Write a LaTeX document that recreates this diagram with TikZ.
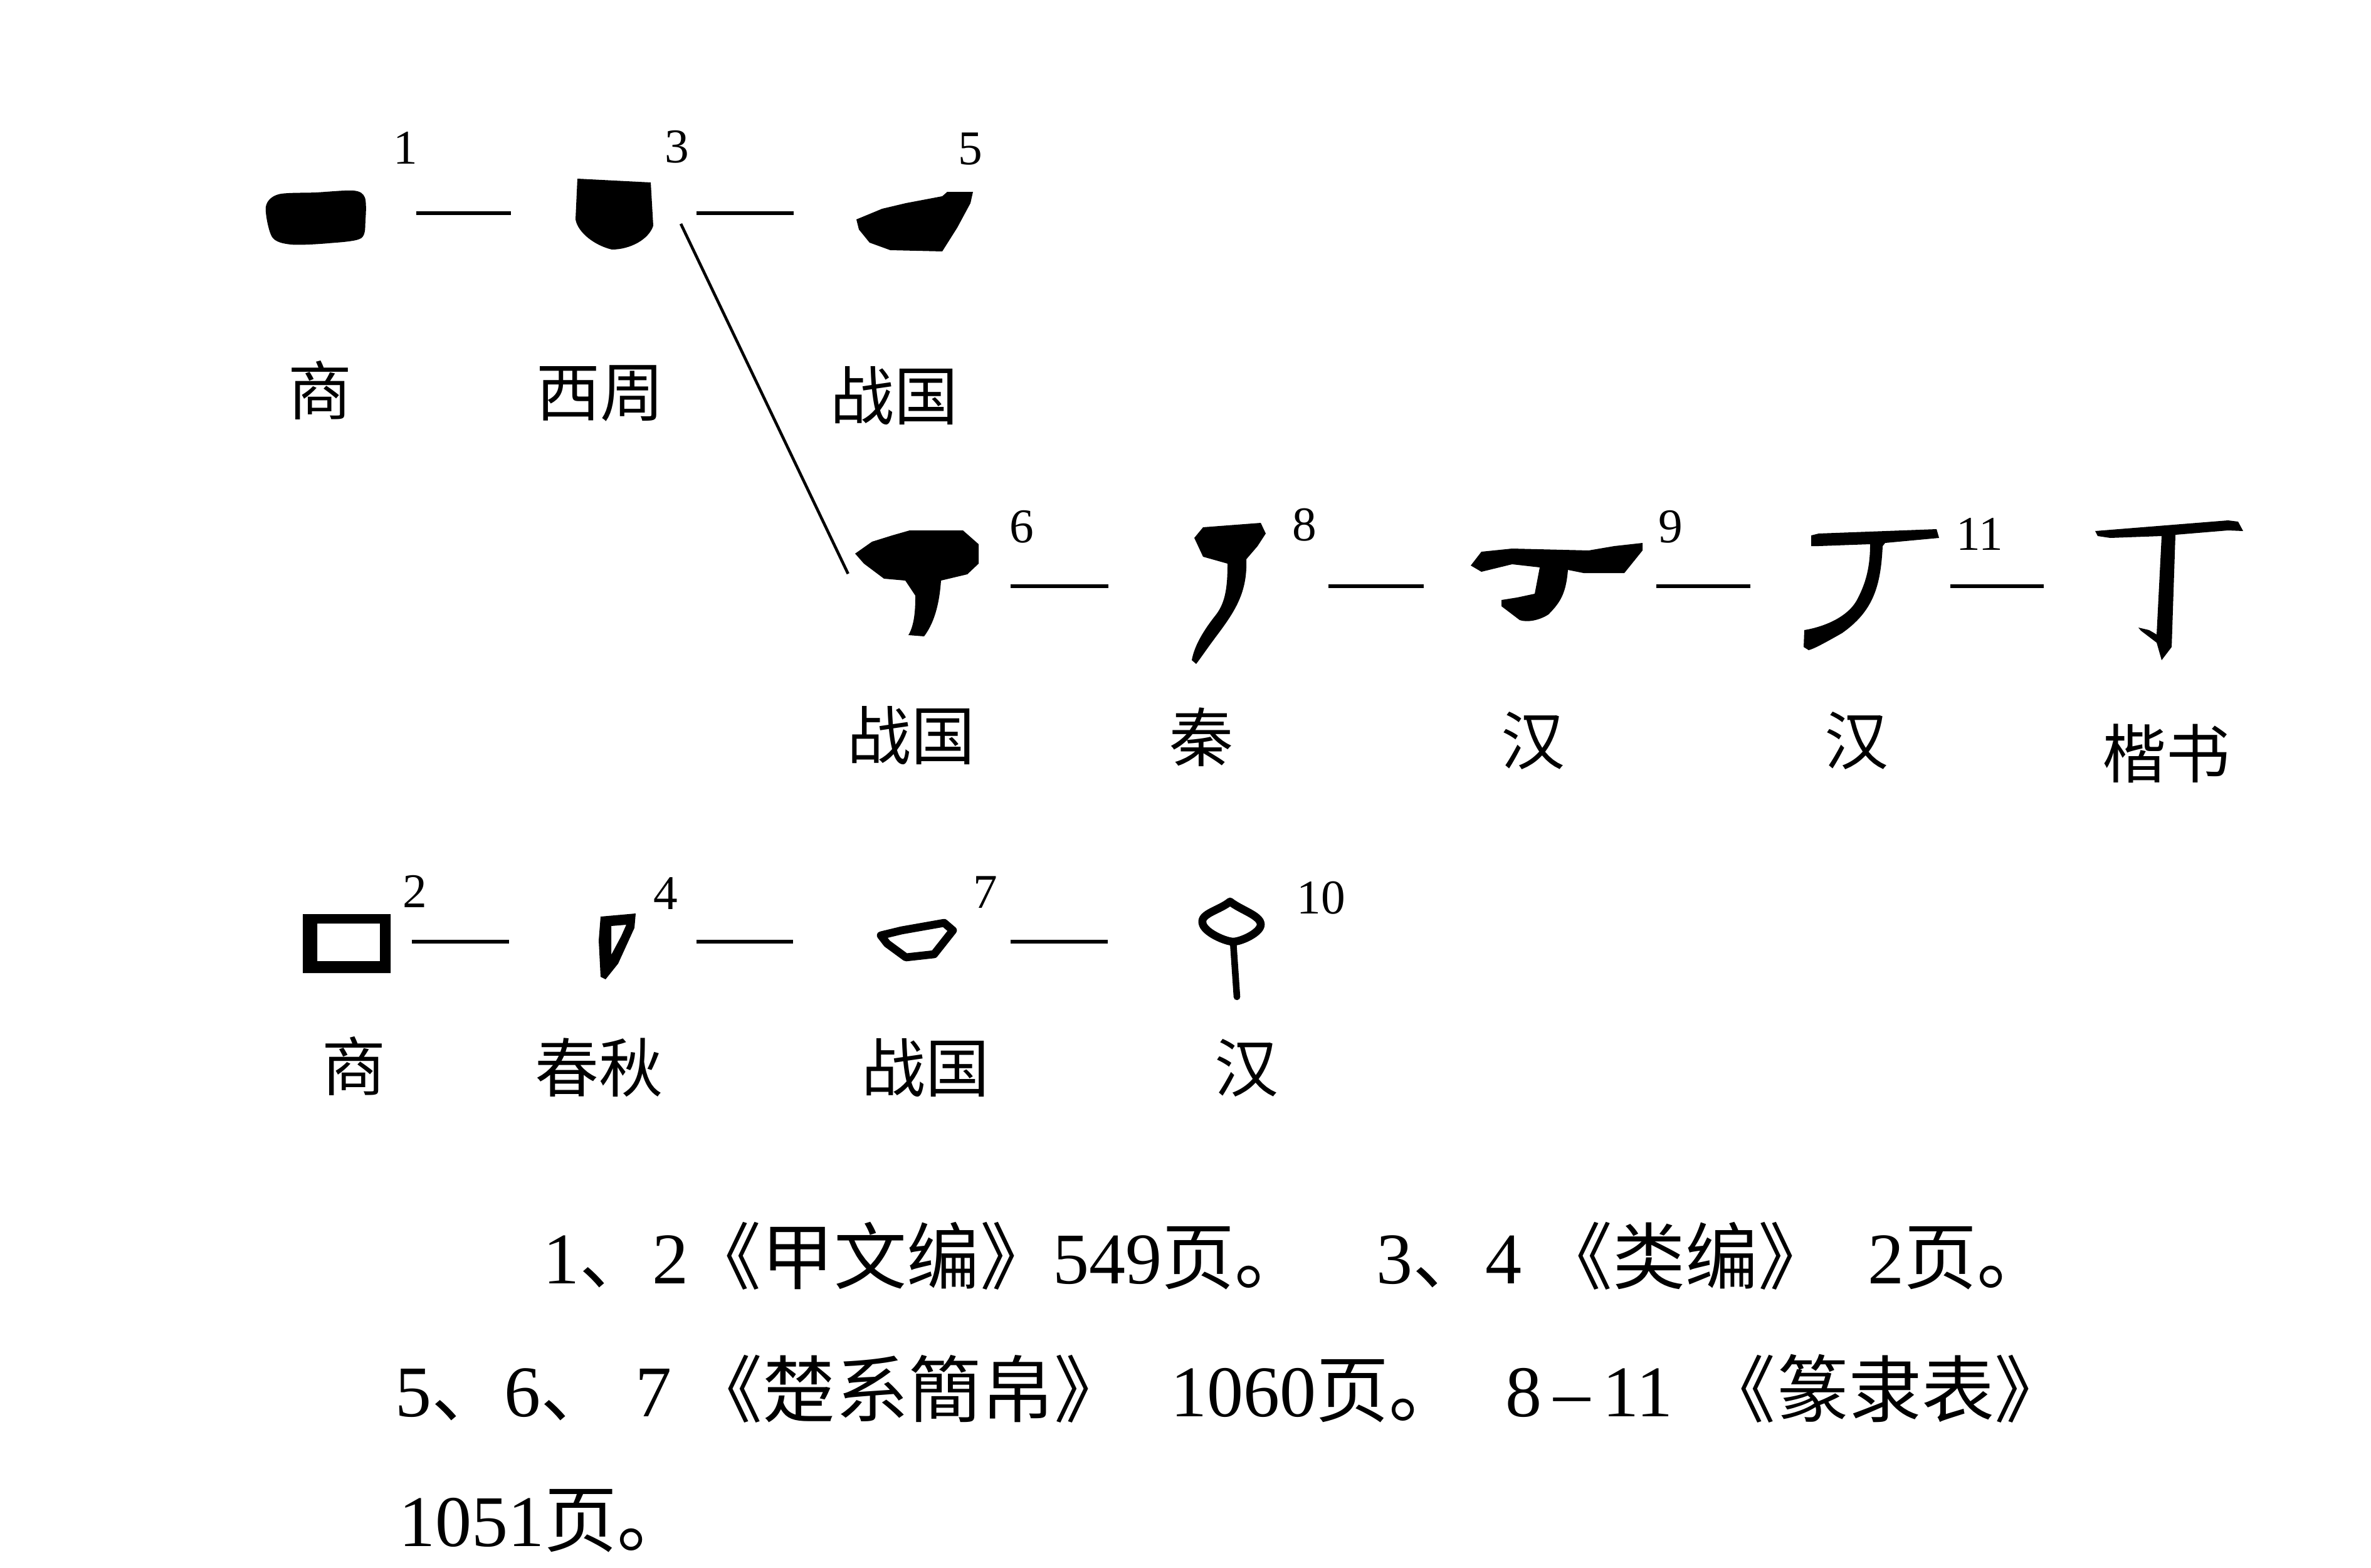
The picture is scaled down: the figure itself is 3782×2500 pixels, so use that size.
\documentclass[tikz,border=0pt]{standalone}
\usepackage{fontspec}
\setmainfont{Liberation Serif}
\newfontfamily\cjk{Noto Sans CJK SC}
\usetikzlibrary{positioning}
\newcommand{\zh}[1]{{\cjk #1}}

\begin{document}
\begin{tikzpicture}[
    x=0.01cm, y=-0.01cm,
    glyph/.style={inner sep=0, minimum height=1.2cm},
    link/.style={line width=1.6pt},
    ink/.style={fill=black},
    stroke/.style={draw=black, line width=3.6pt, line join=round, line cap=round},
    branch/.style={line width=1.3pt, shorten >=0.22cm},
    era/.style={font=\cjk\fontsize{29}{29}\selectfont, inner sep=0},
    num/.style={font=\fontsize{22}{22}\selectfont, inner sep=0},
    note/.style={font=\fontsize{33}{40}\selectfont, inner sep=0, anchor=west}
]
\useasboundingbox[fill=white] (0,0) rectangle (3782,2500);

% Glyph slots
\node[glyph, minimum width=1.64cm] (g1) at (504,340) {};
\node[glyph, minimum width=1.25cm] (g3) at (980,340) {};
\node[glyph, minimum width=1.93cm] (g5) at (1460,340) {};
\node[glyph, minimum width=2.00cm] (g6) at (1463,935) {};
\node[glyph, minimum width=1.23cm] (g8) at (1960,935) {};
\node[glyph, minimum width=2.68cm] (g9) at (2490,935) {};
\node[glyph, minimum width=2.07cm] (g11) at (2988,935) {};
\node[glyph, minimum width=2.41cm] (gK) at (3460,935) {};
\node[glyph, minimum width=1.40cm] (g2) at (552,1502) {};
\node[glyph, minimum width=0.62cm] (g4) at (983,1502) {};
\node[glyph, minimum width=1.28cm] (g7) at (1463,1502) {};
\node[glyph, minimum width=1.21cm] (g10) at (1965,1502) {};

% Row 1: shang, western zhou, warring states
\fill[ink, shift={(g1)}] plot[smooth cycle, tension=0.5] coordinates
    {(-80,-10) (-60,-30) (0,-33) (60,-36) (78,-25) (79,10) (72,40) (20,48) (-40,50) (-70,38)};
\fill[ink, shift={(g3)}] (-59,-55) -- (58,-49) -- (62,20)
    .. controls (55,42) and (25,58) .. (-4,58)
    .. controls (-30,52) and (-58,32) .. (-62,10) -- cycle;
\fill[ink, shift={(g5)}] (-94,10) -- (-53,-7) -- (-15,-16) -- (43,-27)
    -- (51,-34) -- (92,-34) -- (88,-16) -- (67,23) -- (43,61) -- (-40,59) -- (-73,47) -- (-90,26) -- cycle;

% Row 2: the ding line
\fill[ink, shift={(g6)}] (-99,-52) -- (-72,-71) -- (-40,-81) -- (-12,-89)
    -- (73,-89) -- (98,-67) -- (98,-36) -- (80,-19) -- (38,-9)
    .. controls (36,20) and (30,55) .. (11,80) -- (-14,78)
    .. controls (-3,60) and (-3,30) .. (-3,15) -- (-19,-9) -- (-53,-12) -- (-85,-36) -- cycle;
\fill[ink, shift={(g8)}] (-55,-77) -- (-41,-94) -- (51,-101) -- (59,-84) -- (46,-64) -- (28,-43)
    .. controls (30,10) and (10,40) .. (-20,80) .. controls (-35,100) and (-45,115) .. (-52,124)
    -- (-59,118) .. controls (-55,95) and (-40,70) .. (-20,45)
    .. controls (-5,25) and (-2,0) .. (-2,-36) -- (-41,-47) -- cycle;
\fill[ink, shift={(g9)}] (-144,-33) -- (-127,-55) -- (-78,-60) -- (44,-57)
    -- (85,-64) -- (130,-69) -- (130,-57) -- (101,-21) -- (36,-21) -- (11,-26)
    .. controls (8,10) and (0,25) .. (-20,45) .. controls (-35,55) and (-55,58) .. (-66,54)
    -- (-95,32) -- (-95,22) -- (-70,18) -- (-42,12) -- (-34,-30)
    -- (-78,-35) -- (-127,-23) -- cycle;
\fill[ink, shift={(g11)}] (-99,-81) -- (-87,-84) -- (101,-91) -- (105,-77) -- (19,-69) -- (15,-64)
    .. controls (12,0) and (0,40) .. (-50,75) .. controls (-80,92) and (-95,100) .. (-103,102)
    -- (-111,97) -- (-110,70) .. controls (-80,65) and (-40,50) .. (-25,20)
    .. controls (-12,-5) and (-5,-30) .. (-5,-67) -- (-87,-64) -- (-99,-64) -- cycle;
\fill[ink, shift={(gK)}] (-118,-88) -- (94,-105) -- (110,-103) -- (118,-88)
    -- (94,-89) -- (10,-82) -- (4,97) -- (-12,118) -- (-20,90) -- (-45,71) -- (-49,66)
    -- (-32,70) -- (-20,77) -- (-12,-80) -- (-94,-77) -- (-114,-80) -- cycle;

% Row 3: the kou line
\fill[ink, even odd rule, shift={(g2)}] (-69,-44) rectangle (71,50) (-46,-29) rectangle (54,31);
\fill[ink, even odd rule, shift={(g4)}] (-25,-40) -- (31,-45) -- (29,-22) -- (3,35) -- (-17,60)
    -- (-25,56) -- (-28,-2) -- cycle (-8,-25) -- (16,-27) -- (8,-9) -- (-8,21) -- cycle;
\draw[stroke, shift={(g7)}] (-58,-10) -- (-25,-18) -- (43,-30) -- (57,-18) -- (27,20)
    -- (-18,25) -- (-48,3) -- cycle;
\draw[stroke, shift={(g10)}] (-3,-64) .. controls (-20,-50) and (-50,-45) .. (-47,-30)
    .. controls (-45,-15) and (-10,0) .. (2,0) .. controls (15,0) and (47,-15) .. (46,-28)
    .. controls (45,-42) and (15,-50) .. (-3,-64) -- cycle;
\draw[stroke, line width=3pt, shift={(g10)}] (2,0) -- (8,88);

% Dashes between stages
\draw[link, shorten <=0.77cm, shorten >=1.02cm] (g1.east) -- (g3.west);
\draw[link, shorten <=0.68cm, shorten >=0.97cm] (g3.east) -- (g5.west);
\draw[link, shorten <=0.48cm, shorten >=1.30cm] (g6.east) -- (g8.west);
\draw[link, shorten <=0.97cm, shorten >=0.84cm] (g8.east) -- (g9.west);
\draw[link, shorten <=0.17cm, shorten >=0.92cm] (g9.east) -- (g11.west);
\draw[link, shorten <=0.19cm, shorten >=0.79cm] (g11.east) -- (gK.west);
\draw[link, shorten <=0.34cm, shorten >=1.39cm] (g2.east) -- (g4.west);
\draw[link, shorten <=0.96cm, shorten >=1.33cm] (g4.east) -- (g7.west);
\draw[link, shorten <=0.84cm, shorten >=1.37cm] (g7.east) -- (g10.west);

% Branch from 3 down to 6
\coordinate (fork) at (1086,357);
\draw[branch] (fork) -- (g6.west);

% Source numbers
\node[num] (n1) at (647,236) {1};
\node[num] (n3) at (1080,234) {3};
\node[num] (n5) at (1548,238) {5};
\node[num] (n6) at (1630,840) {6};
\node[num] (n8) at (2081,837) {8};
\node[num] (n9) at (2665,840) {9};
\node[num] (n11) at (3158,852) {11};
\node[num] (n2) at (662,1422) {2};
\node[num] (n4) at (1062,1425) {4};
\node[num] (n7) at (1572,1423) {7};
\node[num] (n10) at (2107,1432) {10};

% Period labels
\node[era] (e1) at (510,622) {商};
\node[era] (e3) at (957,627) {西周};
\node[era] (e5) at (1426,631) {战国};
\node[era] (e6) at (1453,1173) {战国};
\node[era] (e8) at (1916,1176) {秦};
\node[era] (e9) at (2445,1181) {汉};
\node[era] (e11) at (2961,1181) {汉};
\node[era] (eK) at (3455,1202) {楷书};
\node[era] (e2) at (564,1700) {商};
\node[era] (e4) at (955,1703) {春秋};
\node[era] (e7) at (1476,1703) {战国};
\node[era] (e10) at (1988,1703) {汉};

% Sources
\node[note] (c1) at (866,2003) {1\zh{、}2\zh{《甲文编》}549\zh{页。}\hspace{1.1cm}3\zh{、}4 \zh{《类编》}\hspace{0.3cm} 2\zh{页。}};
\node[note] (c2) at (630,2215) {5\zh{、}6\zh{、}\hspace{0.35cm}7 \zh{《楚系簡帛》}\hspace{0.7cm}1060\zh{页。}\hspace{0.7cm}8\,--\,11\hspace{0.2cm} \zh{《篆隶表》}};
\node[note] (c3) at (636,2426) {1051\zh{页。}};
\end{tikzpicture}
\end{document}
